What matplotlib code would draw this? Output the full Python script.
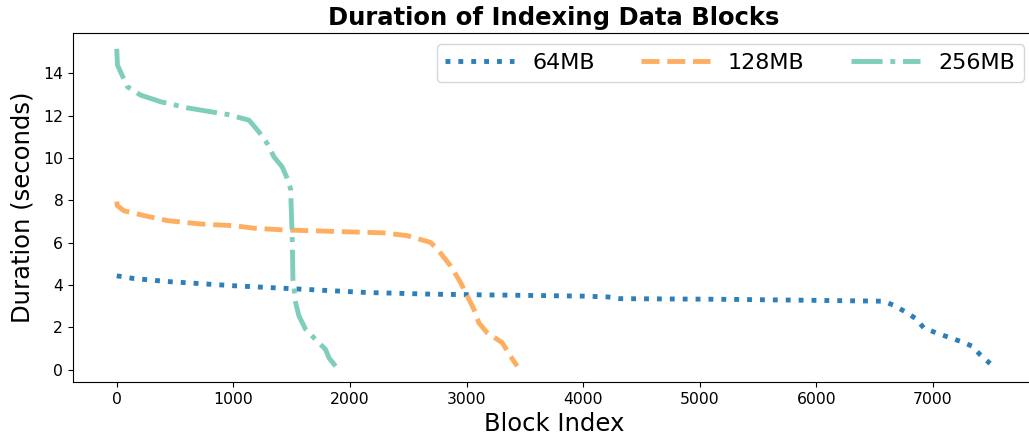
import matplotlib
matplotlib.use("Agg")
import matplotlib.pyplot as plt

# 64MB series
x64 = [0, 149, 434, 1006, 1577, 2149, 2720, 3434, 4000, 4214, 4317, 5197, 6000, 6576, 6662, 6766, 6852, 6921, 7024, 7231, 7334, 7403, 7490]
y64 = [4.43, 4.30, 4.16, 3.96, 3.80, 3.64, 3.56, 3.51, 3.47, 3.43, 3.35, 3.32, 3.27, 3.23, 3.04, 2.72, 2.41, 1.97, 1.74, 1.34, 1.11, 0.71, 0.28]

# 128MB series
x128 = [0, 5, 63, 234, 434, 720, 1006, 1177, 1434, 1863, 2291, 2491, 2691, 2749, 2863, 2949, 3006, 3063, 3106, 3177, 3306, 3377, 3434]
y128 = [7.94, 7.75, 7.50, 7.28, 7.04, 6.88, 6.80, 6.68, 6.60, 6.53, 6.46, 6.33, 6.01, 5.70, 4.90, 4.11, 3.48, 2.85, 2.20, 1.74, 1.27, 0.63, 0.16]

# 256MB series
x256 = [0, 6, 91, 206, 377, 606, 949, 1134, 1220, 1291, 1349, 1420, 1457, 1491, 1497, 1506, 1511, 1534, 1563, 1620, 1691, 1791, 1820, 1877]
y256 = [15.16, 14.40, 13.37, 12.97, 12.66, 12.37, 12.06, 11.79, 11.23, 10.68, 10.05, 9.57, 9.10, 8.54, 7.60, 6.00, 4.27, 3.16, 2.53, 1.90, 1.50, 0.95, 0.55, 0.16]

labels = ["64MB", "128MB", "256MB"]
colors = ["#2c7fb8", "#fdae61", "#7fcdbb"]

fig = plt.figure(figsize=(10.29, 4.42), dpi=100)
ax = fig.add_axes([73/1029, 1 - 382/442, 962/1029, (382 - 33)/442])

ax.plot(x64, y64, linestyle=":", color=colors[0], lw=3.5, label=labels[0])
ax.plot(x128, y128, linestyle="--", color=colors[1], lw=3.5, label=labels[1])
ax.plot(x256, y256, linestyle="-.", color=colors[2], lw=3.5, label=labels[2])

ax.set_xlim(-375, 7875)
ax.set_ylim(-0.59, 15.91)
ax.set_xticks([0, 1000, 2000, 3000, 4000, 5000, 6000, 7000])
ax.set_yticks([0, 2, 4, 6, 8, 10, 12, 14])
ax.tick_params(labelsize=11.25)
ax.set_xlabel("Block Index", fontsize=17.5, labelpad=4)
ax.set_ylabel("Duration (seconds)", fontsize=17.5, labelpad=6)
ax.set_title("Duration of Indexing Data Blocks", fontsize=17.5, fontweight="bold", pad=6)
ax.legend(loc="upper right", ncol=3, fontsize=16, handlelength=3.1, columnspacing=2.1)

fig.savefig("out.png", dpi=100)
